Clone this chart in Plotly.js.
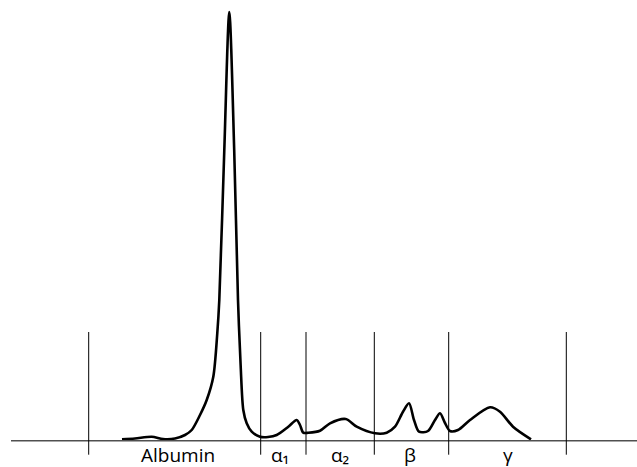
<!DOCTYPE html>
<html>
<head>
<meta charset="utf-8">
<script src="https://cdn.plot.ly/plotly-3.0.1.min.js"></script>
<style>html,body{margin:0;padding:0;background:#fff}#chart{width:637px;height:467px}</style>
</head>
<body>
<div id="chart"></div>
<script>
// Electrophoresis densitometry trace (migration position, relative absorbance)
var position = [122,135,151.7,163,175,185,191.7,200,206.7,213.3,217.3,219.3,224.3,229.3,234.2,238,240.7,243.3,246.7,251.7,260,268,276.7,288.3,296.7,300,303.3,308.3,320,330,345.7,356.7,375,386.7,395,403,409,414,419,428,435,440,445,450,458,470,490,500,513,531];
var absorbance = [1.4,2.2,4.0,1.7,2.2,5.7,10.7,25.7,40.7,64,107.7,140.7,290.7,428.7,290.7,140.7,74,30.7,17.4,9,4,3.7,5.7,14,20.7,15.7,8,8,10,17.4,21.7,14,7.4,8,14,29,37.4,20.7,9,9.7,20.7,27.4,17.7,9.7,10.7,20.7,33.4,29,14,1.4];
// Fraction boundaries
var boundaries = [88.7,260.7,306,374.3,448.7,566.3];
// Fraction labels and their centres
var fractionLabels = ['Albumin','α₁','α₂','β','γ'];
var fractionCenters = [177.8,280,340,410,508];

var shapes = [];
shapes.push({type:'line', xref:'x', yref:'y', x0:11, x1:637, y0:0, y1:0, line:{color:'#505050', width:1.6}});
boundaries.forEach(function(b){
  shapes.push({type:'line', xref:'x', yref:'y', x0:b, x1:b, y0:-14, y1:108.7, line:{color:'#000', width:1}});
});

var annotations = fractionLabels.map(function(t,i){
  return {x:fractionCenters[i], y:-14, xref:'x', yref:'y', text:t, showarrow:false,
          xanchor:'center', yanchor:'middle', borderpad:0,
          font:{family:'Open Sans, Noto Sans, DejaVu Sans, sans-serif', size:19, color:'#000'}};
});

Plotly.newPlot('chart', [{
  x: position, y: absorbance, type:'scatter', mode:'lines',
  line:{color:'#000', width:2.6, shape:'spline', smoothing:0.8},
  hoverinfo:'skip'
}], {
  width:637, height:467,
  margin:{l:0,r:0,t:0,b:0},
  paper_bgcolor:'#fff', plot_bgcolor:'#fff',
  showlegend:false,
  xaxis:{range:[0,637], visible:false, fixedrange:true},
  yaxis:{range:[-26.3,440.7], visible:false, fixedrange:true},
  shapes:shapes, annotations:annotations
}, {staticPlot:true, displayModeBar:false});
</script>
</body>
</html>
